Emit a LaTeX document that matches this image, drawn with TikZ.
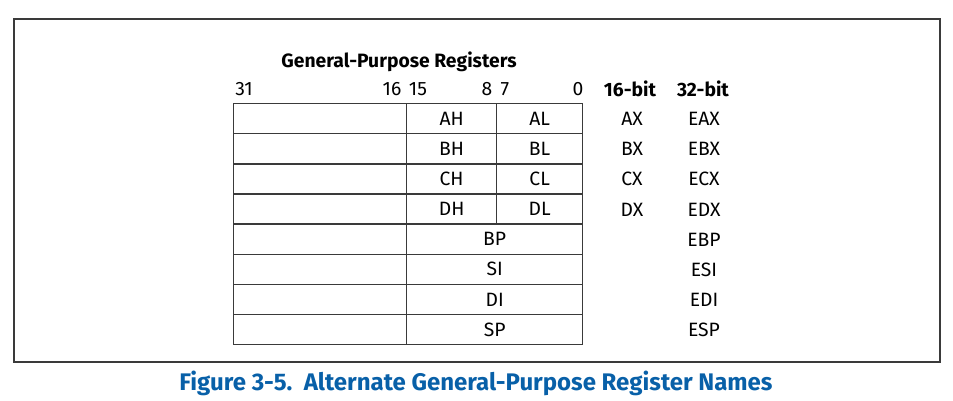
\documentclass[tikz,border=0pt]{standalone}
\usepackage{fontspec}
\setmainfont{Fira Sans}
\definecolor{framegray}{HTML}{3A3A3A}
\definecolor{intelblue}{HTML}{0860A8}
\begin{document}
\begin{tikzpicture}[x=1pt,y=-1pt,
  cell/.style={draw=framegray,line width=1.3pt,inner sep=0pt,minimum height=30.1pt,anchor=north west,font=\fontsize{19.3}{19.3}\selectfont},
  lbl/.style={inner sep=0pt,font=\fontsize{19.3}{19.3}\selectfont},
  hdr/.style={inner sep=0pt,font=\fontsize{19.3}{19.3}\selectfont\bfseries}]
\useasboundingbox (0,0) rectangle (953,400);
\draw[framegray,line width=2pt] (14,19) rectangle (940,362);
\node[hdr] (title) at (399,62) {General-Purpose Registers};
\node[lbl] (b31) at (244,89) {31};
\node[lbl] (b16) at (392,89) {16};
\node[lbl] (b15) at (418,89) {15};
\node[lbl] (b8) at (487,89) {8};
\node[lbl] (b7) at (505,89) {7};
\node[lbl] (b0) at (578,89) {0};
\node[hdr] (h16) at (630,89) {16-bit};
\node[hdr] (h32) at (703,89) {32-bit};
% byte registers rows
\foreach \i/\h/\l/\x in {0/AH/AL/AX,1/BH/BL/BX,2/CH/CL/CX,3/DH/DL/DX}{
  \node[cell,minimum width=173pt] (hi\i) at (233,{103+30.125*\i}) {};
  \node[cell,minimum width=90pt] (\h) at (406,{103+30.125*\i}) {\h};
  \node[cell,minimum width=86pt] (\l) at (496,{103+30.125*\i}) {\l};
  \node[lbl] (\x) at (632,{119+30.125*\i}) {\x};
  \node[lbl] (E\x) at (704,{119+30.125*\i}) {E\x};
}
\foreach \i/\r in {4/BP,5/SI,6/DI,7/SP}{
  \node[cell,minimum width=173pt] (hi\i) at (233,{103+30.125*\i}) {};
  \node[cell,minimum width=176pt] (\r) at (406,{103+30.125*\i}) {\r};
  \node[lbl] (E\r) at (704,{119+30.125*\i}) {E\r};
}
\node[inner sep=0pt,text=intelblue,font=\fontsize{24}{24}\selectfont\bfseries] (cap) at (476,383) {Figure 3-5.\ \ Alternate General-Purpose Register Names};
\end{tikzpicture}
\end{document}
